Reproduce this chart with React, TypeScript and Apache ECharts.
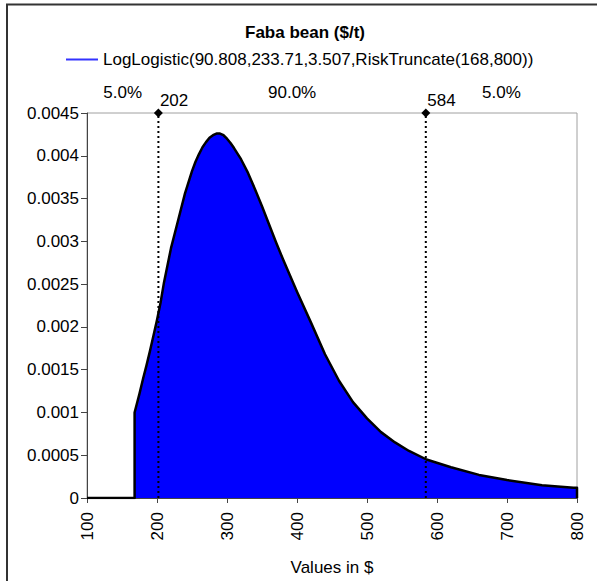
import React, { useEffect, useRef } from "react";
import * as echarts from "echarts";

const TITLE = "Faba bean ($/t)";
const SERIES_NAME = "LogLogistic(90.808,233.71,3.507,RiskTruncate(168,800))";
const X_LABEL = "Values in $";

const xValues = [100, 168, 168, 175, 180, 185, 190, 195, 200, 205, 210, 220, 230, 240, 250, 255, 260, 265, 270, 275, 280, 285, 290, 295, 300, 305, 310, 320, 330, 340, 350, 360, 370, 380, 390, 400, 420, 440, 460, 480, 500, 520, 540, 560, 585, 620, 660, 700, 750, 795, 800, 800];
const densities = [0, 0, 0.001, 0.00122, 0.00139, 0.00155, 0.00172, 0.0019, 0.00208, 0.00228, 0.00252, 0.00292, 0.00324, 0.00356, 0.00382, 0.00393, 0.00402, 0.0041, 0.00416, 0.00421, 0.00424, 0.00426, 0.00426, 0.00424, 0.0042, 0.00415, 0.00409, 0.00396, 0.0038, 0.00361, 0.00341, 0.0032, 0.00299, 0.00279, 0.0026, 0.00241, 0.00205, 0.00168, 0.00137, 0.00112, 0.00093, 0.00077, 0.00065, 0.00055, 0.00045, 0.00036, 0.00027, 0.00021, 0.00015, 0.00012, 0.00012, 0];

const markerValues = [202, 584];
const markerLabels = ["202", "584"];
const bandCenters = [151, 393, 692];
const bandLabels = ["5.0%", "90.0%", "5.0%"];

const Y_MAX = 0.0045;
const Y_STEP = 0.0005;

const FONT = "'Liberation Sans', Arial, sans-serif";

export default function App() {
  const ref = useRef<HTMLDivElement>(null);

  useEffect(() => {
    if (!ref.current) return;
    const chart = echarts.init(ref.current, undefined, { renderer: "svg" });

    const curve = xValues.map((x, i) => [x, densities[i]]);

    const markerSeries = markerValues.map((v, i) => ({
      type: "line",
      name: "m" + i,
      data: [
        { value: [v, 0], symbol: "none" },
        {
          value: [v, Y_MAX],
          symbol: "diamond",
          symbolSize: 9,
          label: {
            show: true,
            formatter: markerLabels[i],
            position: [6, -17],
            align: "left",
            verticalAlign: "top",
            fontSize: 17,
            fontFamily: FONT,
            color: "#000",
          },
        },
      ],
      itemStyle: { color: "#000" },
      lineStyle: { color: "#000", width: 2, type: [2, 3] },
      clip: false,
      z: 5,
      silent: true,
    }));

    chart.setOption({
      animation: false,
      backgroundColor: "#fff",
      title: {
        text: TITLE,
        left: 305,
        textAlign: "center",
        top: 24,
        padding: 0,
        textStyle: { fontFamily: FONT, fontSize: 17, fontWeight: "bold", color: "#000" },
      },
      legend: {
        data: [{ name: SERIES_NAME, icon: "rect" }],
        left: 66,
        top: 51,
        padding: 0,
        itemWidth: 32,
        itemHeight: 2,
        itemGap: 5,
        itemStyle: { color: "#3333ff", borderWidth: 0 },
        textStyle: { fontFamily: FONT, fontSize: 17, color: "#000" },
      },
      grid: {
        left: 87,
        right: 20,
        top: 113,
        bottom: 81,
        show: true,
        borderColor: "#a0a0a0",
        borderWidth: 1,
        backgroundColor: "transparent",
      },
      xAxis: {
        type: "value",
        min: 100,
        max: 800,
        interval: 100,
        name: X_LABEL,
        nameLocation: "middle",
        nameGap: 61,
        nameTextStyle: { fontFamily: FONT, fontSize: 17, color: "#000" },
        axisLine: { show: true, onZero: false, lineStyle: { color: "#444", width: 1 } },
        axisTick: { show: true, length: 5, lineStyle: { color: "#444" } },
        axisLabel: { rotate: 90, margin: 14, fontFamily: FONT, fontSize: 17, color: "#000" },
        splitLine: { show: false },
      },
      yAxis: {
        type: "value",
        min: 0,
        max: Y_MAX,
        interval: Y_STEP,
        axisLine: { show: true, lineStyle: { color: "#444", width: 1 } },
        axisTick: { show: true, length: 6, lineStyle: { color: "#444" } },
        axisLabel: {
          margin: 8,
          fontFamily: FONT,
          fontSize: 17,
          color: "#000",
          formatter: (v: number) => String(+v.toFixed(4)),
        },
        splitLine: { show: false },
      },
      graphic: [
        {
          type: "rect",
          shape: { x: 7, y: 4.5, width: 800, height: 800 },
          style: { fill: "none", stroke: "#333", lineWidth: 2 },
          silent: true,
          z: 100,
        },
      ],
      series: [
        {
          type: "line",
          name: SERIES_NAME,
          data: curve,
          showSymbol: false,
          symbol: "none",
          lineStyle: { color: "#000", width: 2.5, join: "round" },
          itemStyle: { color: "#000" },
          areaStyle: { color: "#0000ff", opacity: 1 },
          z: 3,
        },
        ...markerSeries,
        {
          type: "scatter",
          name: "bands",
          data: bandCenters.map((c, i) => ({ value: [c, Y_MAX], name: bandLabels[i] })),
          symbolSize: 0,
          itemStyle: { color: "#fff", opacity: 1 },
          clip: false,
          silent: true,
          label: {
            show: true,
            position: "top",
            distance: 12,
            formatter: (p: any) => p.name,
            fontFamily: FONT,
            fontSize: 17,
            color: "#000",
            opacity: 1,
          },
        },
      ],
    });

    return () => chart.dispose();
  }, []);

  return (
    <div
      ref={ref}
      style={{ position: "absolute", left: 0, top: 0, width: 597, height: 581 }}
    />
  );
}
